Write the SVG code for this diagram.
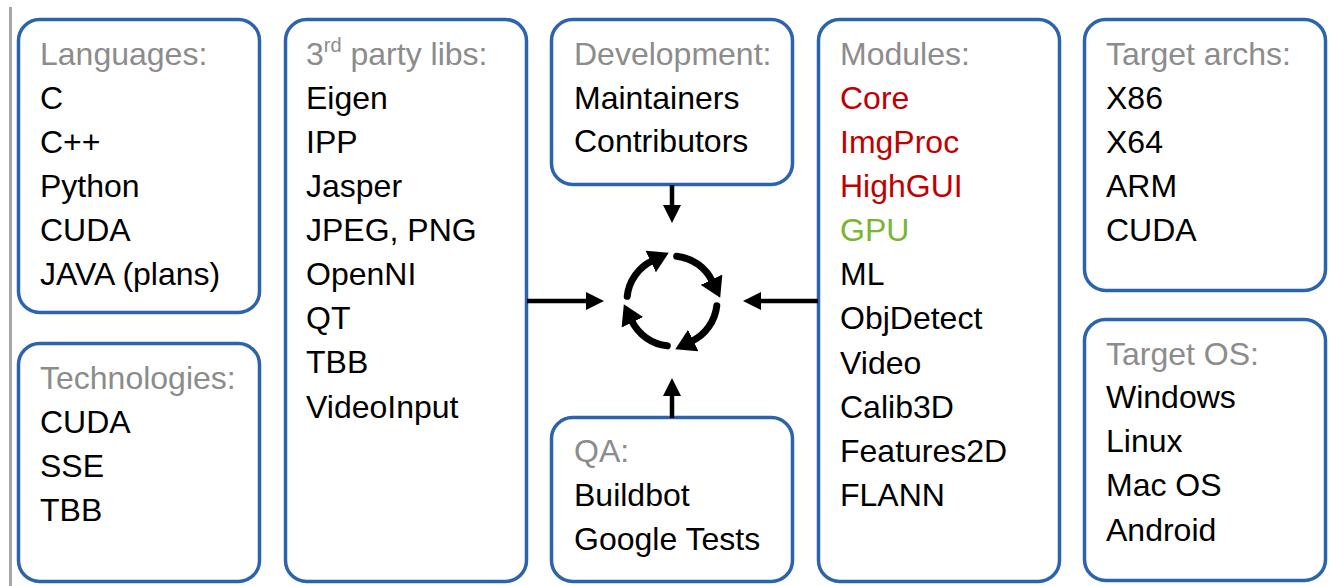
<svg xmlns="http://www.w3.org/2000/svg" width="1329" height="586" viewBox="0 0 1329 586">
<style>
.box{fill:#fff;stroke:#2b63ae;stroke-width:3.5}
text{font-family:"Liberation Sans",Arial,sans-serif;font-size:32px;fill:#000}
.h{fill:#8c8c8c}
.r{fill:#c00000}
.g{fill:#78b632}
.conn{stroke:#000;stroke-width:4.5;fill:none}
.cyc{stroke:#000;stroke-width:7;fill:none;stroke-linecap:round}
</style>
<defs>
<marker id="arr" markerUnits="userSpaceOnUse" markerWidth="18" markerHeight="18" viewBox="0 0 18 18" refX="0" refY="9" orient="auto"><path d="M0,0 L18,9 L0,18 Z" fill="#000"/></marker>
<marker id="cy" markerUnits="userSpaceOnUse" markerWidth="20" markerHeight="24" viewBox="0 0 20 24" refX="2" refY="12" orient="auto"><path d="M0,0 L20,12 L0,24 Z" fill="#000"/></marker>
</defs>
<rect width="1329" height="586" fill="#fff"/>
<line x1="10.5" y1="7" x2="10.5" y2="586" stroke="#a6a6a6" stroke-width="3"/>

<g id="languages">
<rect class="box" x="18.5" y="19.5" width="241" height="293" rx="21"/>
<text x="40" y="65" class="h">Languages:</text>
<text x="40" y="109">C</text>
<text x="40" y="153">C++</text>
<text x="40" y="197">Python</text>
<text x="40" y="241">CUDA</text>
<text x="40" y="285">JAVA (plans)</text>
</g>

<g id="technologies">
<rect class="box" x="18.5" y="343.5" width="241" height="238" rx="21"/>
<text x="40" y="389" class="h">Technologies:</text>
<text x="40" y="433">CUDA</text>
<text x="40" y="477">SSE</text>
<text x="40" y="521">TBB</text>
</g>

<g id="libs">
<rect class="box" x="285.5" y="19.5" width="241" height="562" rx="21"/>
<text x="306" y="65" class="h">3<tspan font-size="20" dy="-13">rd</tspan><tspan dy="13"> party libs:</tspan></text>
<text x="306" y="109">Eigen</text>
<text x="306" y="153">IPP</text>
<text x="306" y="197">Jasper</text>
<text x="306" y="241">JPEG, PNG</text>
<text x="306" y="285">OpenNI</text>
<text x="306" y="329">QT</text>
<text x="306" y="373">TBB</text>
<text x="306" y="418">VideoInput</text>
</g>

<g id="development">
<rect class="box" x="551.5" y="19.5" width="241" height="165" rx="21"/>
<text x="574" y="65" class="h">Development:</text>
<text x="574" y="109">Maintainers</text>
<text x="574" y="152">Contributors</text>
</g>

<g id="qa">
<rect class="box" x="551.5" y="417.5" width="241" height="164" rx="21"/>
<text x="574" y="462" class="h">QA:</text>
<text x="574" y="506">Buildbot</text>
<text x="574" y="550">Google Tests</text>
</g>

<g id="modules">
<rect class="box" x="818.5" y="19.5" width="241" height="562" rx="21"/>
<text x="840" y="65" class="h">Modules:</text>
<text x="840" y="109" class="r">Core</text>
<text x="840" y="153" class="r">ImgProc</text>
<text x="840" y="197" class="r">HighGUI</text>
<text x="840" y="241" class="g">GPU</text>
<text x="840" y="285">ML</text>
<text x="840" y="329">ObjDetect</text>
<text x="840" y="374">Video</text>
<text x="840" y="418">Calib3D</text>
<text x="840" y="462">Features2D</text>
<text x="840" y="506">FLANN</text>
</g>

<g id="archs">
<rect class="box" x="1084.5" y="19.5" width="241" height="271" rx="21"/>
<text x="1106" y="65" class="h">Target archs:</text>
<text x="1106" y="109">X86</text>
<text x="1106" y="153">X64</text>
<text x="1106" y="197">ARM</text>
<text x="1106" y="241">CUDA</text>
</g>

<g id="os">
<rect class="box" x="1084.5" y="319.5" width="241" height="261" rx="21"/>
<text x="1106" y="365" class="h">Target OS:</text>
<text x="1106" y="408">Windows</text>
<text x="1106" y="452">Linux</text>
<text x="1106" y="496">Mac OS</text>
<text x="1106" y="541">Android</text>
</g>

<g id="connectors">
<line class="conn" x1="527" y1="301" x2="586" y2="301" marker-end="url(#arr)"/>
<line class="conn" x1="818" y1="301" x2="761" y2="301" marker-end="url(#arr)"/>
<line class="conn" x1="672" y1="185" x2="672" y2="205" marker-end="url(#arr)"/>
<line class="conn" x1="672" y1="418" x2="672" y2="396" marker-end="url(#arr)"/>
<g id="cycle">
<path class="cyc" d="M627.2,296.3 A45,45 0 0 1 652.5,260.6" marker-end="url(#cy)"/>
<path class="cyc" d="M676.7,256.2 A45,45 0 0 1 712.4,281.5" marker-end="url(#cy)"/>
<path class="cyc" d="M716.8,305.7 A45,45 0 0 1 691.5,341.4" marker-end="url(#cy)"/>
<path class="cyc" d="M667.3,345.8 A45,45 0 0 1 631.6,320.5" marker-end="url(#cy)"/>
</g>
</g>
</svg>
